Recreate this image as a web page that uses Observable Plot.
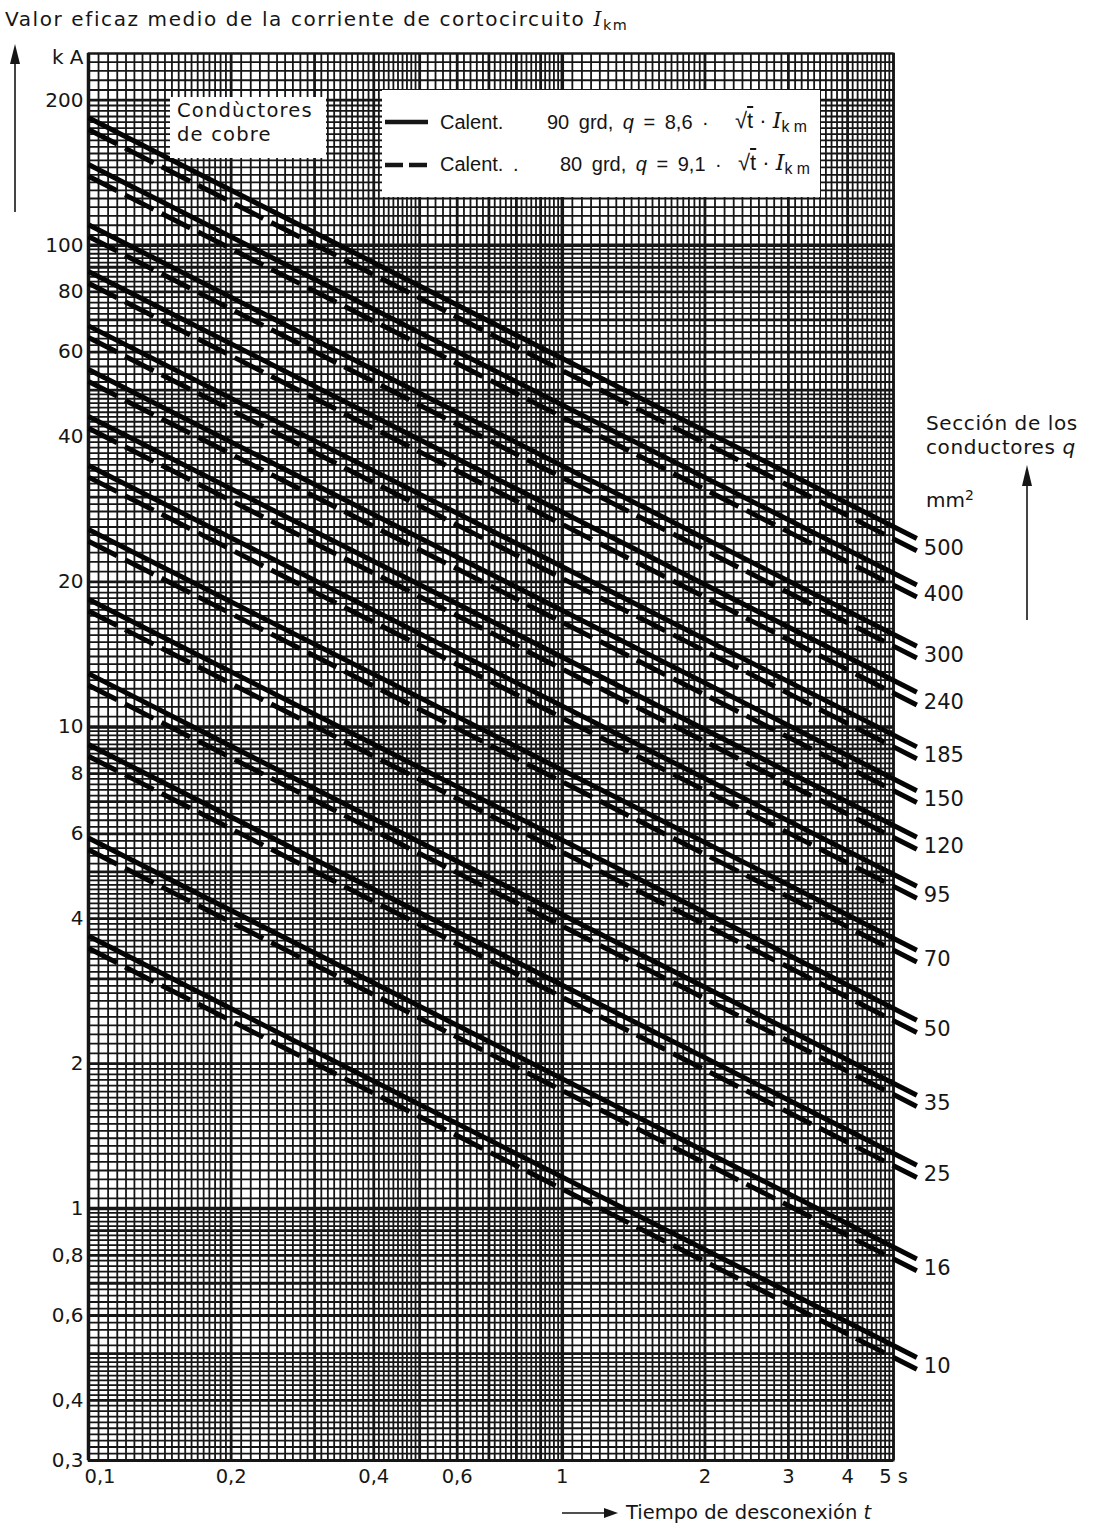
<!DOCTYPE html>
<html><head><meta charset="utf-8">
<script src="https://cdn.jsdelivr.net/npm/d3@7"></script>
<script src="https://cdn.jsdelivr.net/npm/@observablehq/plot@0.6"></script>
<style>
body{margin:0;background:#fff;font-family:"DejaVu Sans",sans-serif;color:#151515}
#wrap{position:relative;width:1094px;height:1528px;overflow:hidden}
.abs{position:absolute;white-space:nowrap;line-height:1}
.box{position:absolute;background:#fff}
.ital{font-family:"DejaVu Serif",serif;font-style:italic}
sub{font-size:0.72em;vertical-align:-0.25em}
.ov{text-decoration:overline}
.lg{font-family:"Liberation Sans",Arial,sans-serif;font-size:20px;word-spacing:4px}
</style></head><body><div id="wrap"></div>
<script>
// Cross sections q (mm²)
const sections = [500, 400, 300, 240, 185, 150, 120, 95, 70, 50, 35, 25, 16, 10];
// Disconnection time at line start and line end (s)
const tEnds = [0.1, 5.6];
// Solid (90 grd) current in kA at the two ends
const solidStart = [183.9, 147.1, 110.3, 88.2, 68.0, 55.2, 44.1, 34.9, 25.7, 18.4, 12.9, 9.19, 5.88, 3.68];
const solidEnd = [24.6, 19.7, 14.7, 11.8, 9.09, 7.37, 5.90, 4.67, 3.44, 2.46, 1.72, 1.23, 0.786, 0.491];
// Dashed (80 grd) current in kA at the two ends
const dashedStart = [173.8, 139.0, 104.2, 83.4, 64.3, 52.1, 41.7, 33.0, 24.3, 17.4, 12.2, 8.69, 5.56, 3.47];
const dashedEnd = [23.2, 18.6, 13.9, 11.1, 8.59, 6.97, 5.57, 4.41, 3.25, 2.32, 1.63, 1.16, 0.743, 0.464];
// Tick labels
const yTicks = [0.3, 0.4, 0.6, 0.8, 1, 2, 4, 6, 8, 10, 20, 40, 60, 80, 100, 200];
const xTicks = [0.1, 0.2, 0.4, 0.6, 0.8, 1, 2, 3, 4, 5];

const solidRows = [], dashedRows = [], labelRows = [];
sections.forEach((q, i) => {
  solidRows.push({q, t: tEnds[0], I: solidStart[i]}, {q, t: tEnds[1], I: solidEnd[i]});
  dashedRows.push({q, t: tEnds[0], I: dashedStart[i]}, {q, t: tEnds[1], I: dashedEnd[i]});
  labelRows.push({q, t: tEnds[1], I: dashedEnd[i]});
});

// log-paper grid (decoration)
function logGrid(lo, hi) {
  const out = [];
  for (let e = -2; e <= 3; e++) {
    const b = Math.pow(10, e);
    for (const [a, c, s] of [[1, 2, 0.05], [2, 5, 0.1], [5, 10, 0.2]]) {
      const n = Math.round((c - a) / s);
      for (let k = 0; k < n; k++) {
        const m = +(a + k * s).toFixed(4);
        const v = +(b * m).toPrecision(6);
        if (v >= lo * 0.9999 && v <= hi * 1.0001) out.push({v, m});
      }
    }
  }
  return out;
}
const gx = logGrid(0.1, 5), gy = logGrid(0.3, 250);
const minor = g => g.filter(d => Math.abs(d.m - Math.round(d.m)) > 1e-6).map(d => d.v);
const major = g => g.filter(d => Math.abs(d.m - Math.round(d.m)) <= 1e-6 && Math.round(d.m) !== 1).map(d => d.v);
const decade = g => g.filter(d => Math.abs(d.m - 1) < 1e-6).map(d => d.v);
const fmt = d => String(d).replace(".", ",");
const INK = "#161616";

const chart = Plot.plot({
  width: 1094, height: 1528,
  marginLeft: 88, marginRight: 201, marginTop: 53, marginBottom: 68,
  x: {type: "log", domain: [0.1, 5]},
  y: {type: "log", domain: [0.3, 250]},
  style: {fontFamily: "'DejaVu Sans', sans-serif", color: INK, background: "white"},
  marks: [
    Plot.ruleX(minor(gx), {stroke: INK, strokeWidth: 1.8}),
    Plot.ruleY(minor(gy), {stroke: INK, strokeWidth: 1.8}),
    Plot.ruleX(major(gx), {stroke: INK, strokeWidth: 2.8}),
    Plot.ruleY(major(gy), {stroke: INK, strokeWidth: 2.8}),
    Plot.ruleX(decade(gx), {stroke: INK, strokeWidth: 3.5}),
    Plot.ruleY(decade(gy), {stroke: INK, strokeWidth: 3.5}),
    Plot.frame({stroke: INK, strokeWidth: 2}),
    Plot.line(solidRows, {x: "t", y: "I", z: "q", stroke: "#050505", strokeWidth: 5, strokeLinecap: "butt"}),
    Plot.line(dashedRows, {x: "t", y: "I", z: "q", stroke: "#050505", strokeWidth: 5, strokeDasharray: "32,9", strokeLinecap: "butt"}),
    Plot.text(labelRows, {x: "t", y: "I", text: d => String(d.q), textAnchor: "start", dx: 7, dy: -3, fontSize: 21, fill: INK}),
    Plot.axisY(yTicks, {tickSize: 0, tickPadding: 5, fontSize: 20, tickFormat: fmt, label: null}),
    Plot.axisY([250], {tickSize: 0, tickPadding: 5, fontSize: 20, tickFormat: () => "k A", label: null, dy: 4}),
    Plot.axisX(xTicks.slice(1), {tickSize: 0, tickPadding: 9, fontSize: 19.5, tickFormat: d => d === 5 ? "5 s" : fmt(d), label: null}),
    Plot.axisX([0.1], {tickSize: 0, tickPadding: 9, fontSize: 19.5, tickFormat: fmt, label: null, textAnchor: "start", dx: -4})
  ]
});

const wrap = document.getElementById("wrap");
wrap.appendChild(chart);
chart.style.position = "absolute"; chart.style.left = "0"; chart.style.top = "0";

function add(html, css, cls = "abs") {
  const d = document.createElement("div");
  d.className = cls; d.innerHTML = html;
  Object.assign(d.style, css);
  wrap.appendChild(d);
  return d;
}
// Title
add('Valor eficaz medio de la corriente de cortocircuito <span class="ital">I</span><sub>km</sub>',
  {left: "5px", top: "9px", fontSize: "20px", letterSpacing: "1.6px"});
// Conductor box
add('', {left: "170px", top: "97px", width: "156px", height: "61px"}, "box");
add('Condùctores', {left: "177px", top: "101px", fontSize: "19.5px", letterSpacing: "1.2px"});
add('de cobre', {left: "177px", top: "125px", fontSize: "19.5px", letterSpacing: "1.2px"});
// Legend box
add('', {left: "382px", top: "90px", width: "438px", height: "107px"}, "box");
add('Calent.', {left: "440px", top: "112px"}, "abs lg");
add('90 grd, <i>q</i> = 8,6 ·', {left: "547px", top: "112px"}, "abs lg");
add('√<span class="ov">t</span> · <span class="ital">I</span><sub>k m</sub>', {left: "735px", top: "110px", fontSize: "22px", wordSpacing: "0"}, "abs lg");
add('Calent. .', {left: "440px", top: "154px"}, "abs lg");
add('80 grd, <i>q</i> = 9,1 ·', {left: "560px", top: "154px"}, "abs lg");
add('√<span class="ov">t</span> · <span class="ital">I</span><sub>k m</sub>', {left: "738px", top: "152px", fontSize: "22px", wordSpacing: "0"}, "abs lg");
// Right labels
add('Sección de los', {left: "926px", top: "413px", fontSize: "20px", letterSpacing: "0.6px"});
add('conductores <i>q</i>', {left: "926px", top: "437px", fontSize: "20px", letterSpacing: "0.6px"});
add('mm<sup style="font-size:0.7em;vertical-align:0.5em">2</sup>', {left: "926px", top: "488px", fontSize: "20px"});
// Bottom axis title
add('Tiempo de desconexión <i>t</i>', {left: "626px", top: "1503px", fontSize: "19.5px"});

// arrows and legend samples (decoration)
const ns = "http://www.w3.org/2000/svg";
const ov = document.createElementNS(ns, "svg");
ov.setAttribute("width", 1094); ov.setAttribute("height", 1528);
Object.assign(ov.style, {position: "absolute", left: "0", top: "0", pointerEvents: "none"});
ov.innerHTML = `
 <line x1="15" y1="212" x2="15" y2="60" stroke="${INK}" stroke-width="1.6"/>
 <path d="M15 44 L10 64 L20 64 Z" fill="${INK}"/>
 <line x1="1027" y1="620" x2="1027" y2="482" stroke="${INK}" stroke-width="1.6"/>
 <path d="M1027 465 L1022 486 L1032 486 Z" fill="${INK}"/>
 <line x1="562" y1="1513" x2="608" y2="1513" stroke="${INK}" stroke-width="1.5"/>
 <path d="M618 1513 L604 1508 L604 1518 Z" fill="${INK}"/>
 <line x1="385" y1="122" x2="428" y2="122" stroke="${INK}" stroke-width="4.5"/>
 <line x1="385" y1="165" x2="428" y2="165" stroke="${INK}" stroke-width="4.5" stroke-dasharray="18,6"/>
`;
wrap.appendChild(ov);
</script></body></html>
